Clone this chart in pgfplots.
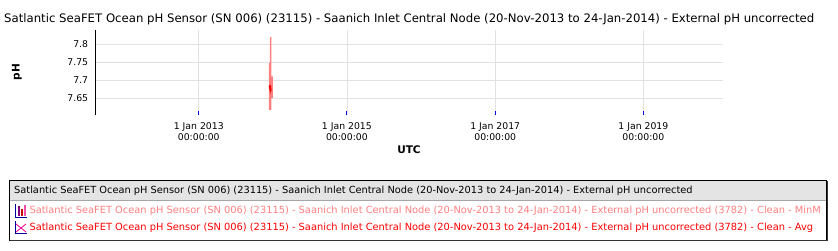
\documentclass[border=0pt]{standalone}
\usepackage{fontspec}
\setmainfont{DejaVu Sans}
\usepackage{pgfplots}
\pgfplotsset{compat=1.18}
\definecolor{lightred}{HTML}{FF8080}
\definecolor{avgred}{HTML}{EE0000}
\definecolor{gridgray}{HTML}{E2E2E2}
\definecolor{hdrgray}{HTML}{E4E4E4}
\begin{document}
\begin{tikzpicture}
\useasboundingbox (0pt,0pt) rectangle (838pt,250pt);
\node[anchor=west, inner sep=0, font=\fontsize{11.7}{13}\selectfont] at (4pt,231pt) {Satlantic SeaFET Ocean pH Sensor (SN 006) (23115) - Saanich Inlet Central Node (20-Nov-2013 to 24-Jan-2014) - External pH uncorrected};
\begin{axis}[at={(95.3pt,135pt)}, anchor=south west, scale only axis,
  width=627.4pt, height=85pt,
  xmin=-510, xmax=2582, ymin=7.6036, ymax=7.8397,
  axis y line*=left, axis x line*=bottom,
  x axis line style={draw=none},
  y axis line style={black, line width=1.2pt, -},
  xtick={0,730,1461,2191},
  xticklabels={{1 Jan 2013\\00:00:00},{1 Jan 2015\\00:00:00},{1 Jan 2017\\00:00:00},{1 Jan 2019\\00:00:00}},
  xticklabel style={align=center, font=\fontsize{9.3}{11}\selectfont, inner sep=0pt, yshift=-7.5pt},
  ytick={7.65,7.7,7.75,7.8},
  yticklabels={7.65,7.7,7.75,7.8},
  yticklabel style={font=\fontsize{9.3}{11}\selectfont, inner sep=0pt, xshift=-7pt},
  xmajorgrids, ymajorgrids,
  major grid style={gridgray, line width=0.8pt},
  x tick style={blue, line width=0.9pt},
  y tick style={draw=none},
  xtick align=inside,
  major tick length=4pt,
]
\addplot[fill=lightred, draw=none] coordinates {(345,7.748) (350,7.748) (350,7.820) (358,7.820) (358,7.711) (365,7.711) (365,7.651) (358,7.651) (358,7.618) (345,7.618)} -- cycle;
\addplot[avgred, line width=1pt] coordinates {(347,7.684) (349,7.679) (351,7.688) (353,7.672) (355,7.678) (357,7.670)};
\end{axis}
\node[rotate=90, font=\bfseries\fontsize{10.5}{12}\selectfont] at (17pt,178pt) {pH};
\node[font=\bfseries\fontsize{10.5}{12}\selectfont] at (409pt,100.5pt) {UTC};
% legend
\fill[hdrgray] (9.5pt,50pt) rectangle (826.5pt,70pt);
\draw[gray!70, line width=0.6pt] (9.5pt,50pt) -- (826.5pt,50pt);
\draw[black, line width=1pt] (9.5pt,10pt) rectangle (826.5pt,70pt);
\draw[black!80, line width=1.2pt] (827.2pt,69.5pt) -- (827.2pt,9.3pt) -- (10pt,9.3pt);
\node[anchor=west, inner sep=0, font=\fontsize{9.8}{11}\selectfont] at (14pt,59.3pt) {Satlantic SeaFET Ocean pH Sensor (SN 006) (23115) - Saanich Inlet Central Node (20-Nov-2013 to 24-Jan-2014) - External pH uncorrected};
\node[anchor=west, inner sep=0, text=lightred, font=\fontsize{9.85}{11}\selectfont] at (29.3pt,39pt) {Satlantic SeaFET Ocean pH Sensor (SN 006) (23115) - Saanich Inlet Central Node (20-Nov-2013 to 24-Jan-2014) - External pH uncorrected (3782) - Clean - MinM};
\node[anchor=west, inner sep=0, text=red, font=\fontsize{9.85}{11}\selectfont] at (29.3pt,22.3pt) {Satlantic SeaFET Ocean pH Sensor (SN 006) (23115) - Saanich Inlet Central Node (20-Nov-2013 to 24-Jan-2014) - External pH uncorrected (3782) - Clean - Avg};
% legend icons
\draw[blue!60!black, line width=0.8pt] (15pt,46pt) -- (15pt,33pt) -- (27pt,33pt);
\fill[violet] (17.5pt,34pt) rectangle (19.5pt,44pt);
\fill[red!80!black] (20.5pt,34pt) rectangle (22.5pt,41pt);
\fill[magenta!70] (23.5pt,34pt) rectangle (25.5pt,45pt);
\draw[blue!60!black, line width=0.8pt] (15pt,29pt) -- (15pt,16.5pt) -- (27pt,16.5pt);
\draw[magenta, line width=0.8pt] (16pt,26pt) -- (21pt,22pt) -- (26pt,26pt);
\draw[magenta, line width=0.8pt] (16pt,18pt) -- (21pt,22pt) -- (26pt,18pt);
\end{tikzpicture}
\end{document}
